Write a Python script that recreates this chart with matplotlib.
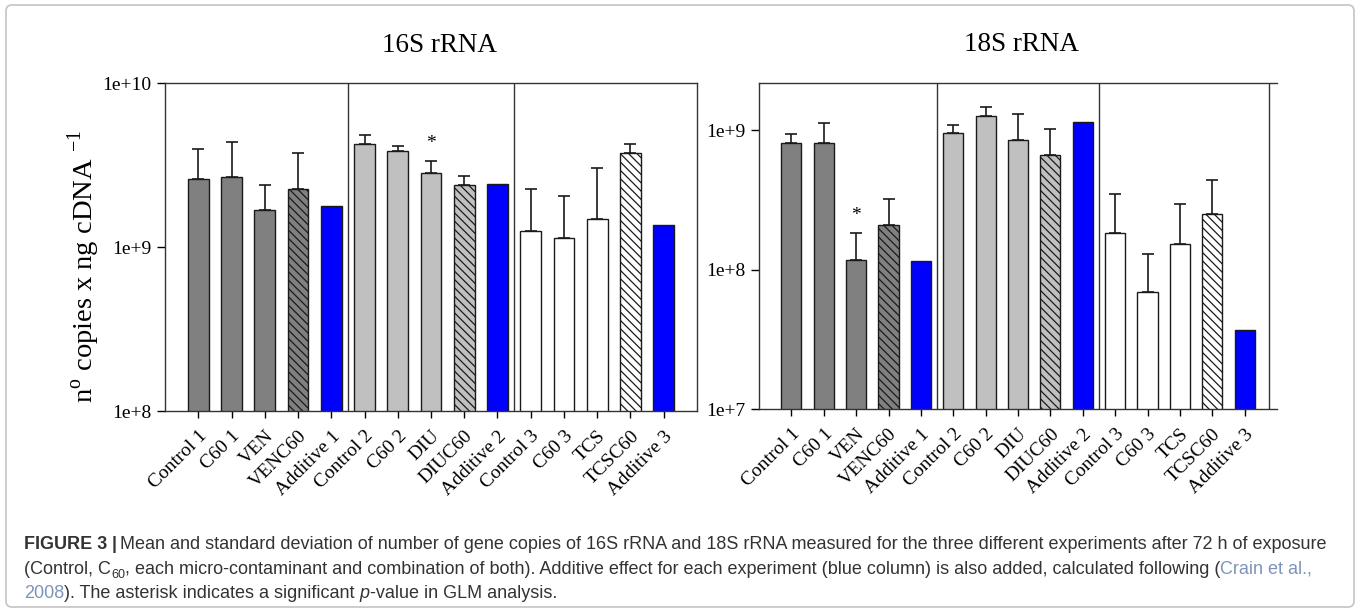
import numpy as np
import matplotlib
matplotlib.use('Agg')
import matplotlib.pyplot as plt
from matplotlib.patches import FancyBboxPatch
from matplotlib.transforms import IdentityTransform, ScaledTranslation
from matplotlib.ticker import FixedLocator, FuncFormatter, NullLocator

plt.rcParams['font.family'] = ['Liberation Serif', 'DejaVu Serif']
plt.rcParams['mathtext.fontset'] = 'custom'
plt.rcParams['mathtext.rm'] = 'Liberation Serif'
plt.rcParams['hatch.linewidth'] = 0.9

W, H = 1360, 610

labels = ['Control 1', 'C60 1', 'VEN', 'VENC60', 'Additive 1',
          'Control 2', 'C60 2', 'DIU', 'DIUC60', 'Additive 2',
          'Control 3', 'C60 3', 'TCS', 'TCSC60', 'Additive 3']

s16_mean = [2.60e9, 2.68e9, 1.68e9, 2.25e9, 1.78e9,
            4.23e9, 3.85e9, 2.84e9, 2.39e9, 2.43e9,
            1.26e9, 1.14e9, 1.49e9, 3.72e9, 1.37e9]
s16_sd = [1.38e9, 1.70e9, 0.71e9, 1.47e9, 0,
          0.59e9, 0.30e9, 0.52e9, 0.33e9, 0,
          0.99e9, 0.91e9, 1.56e9, 0.55e9, 0]

s18_mean = [8.10e8, 8.07e8, 1.17e8, 2.08e8, 1.15e8,
            9.57e8, 1.26e9, 8.47e8, 6.64e8, 1.15e9,
            1.83e8, 6.92e7, 1.52e8, 2.52e8, 3.66e7]
s18_sd = [1.30e8, 3.20e8, 0.67e8, 1.13e8, 0,
          1.40e8, 2.10e8, 4.70e8, 3.50e8, 0,
          1.66e8, 0.60e8, 1.44e8, 1.88e8, 0]

group_colors = ['#808080', '#c0c0c0', '#ffffff']
blue = '#0000ff'


def bar_style(i):
    grp, pos = divmod(i, 5)
    if pos == 4:
        return blue, None
    if pos == 3:
        return group_colors[grp], '\\\\\\\\'
    return group_colors[grp], None


def draw_panel(ax, mean, sd, ylim, star_idx, star_fac):
    x = np.arange(len(mean))
    for i in x:
        fc, hatch = bar_style(i)
        ax.bar(i, mean[i], width=0.62, color=fc, edgecolor='#1a1a1a',
               linewidth=1.0, hatch=hatch, zorder=2)
    sd = np.array(sd)
    has = sd > 0
    ax.errorbar(x[has], np.array(mean)[has],
                yerr=[np.zeros(has.sum()), sd[has]], fmt='none',
                ecolor='#1a1a1a', elinewidth=1.2, capsize=4.5, capthick=1.2,
                zorder=3)
    ax.set_yscale('log')
    ax.set_ylim(*ylim)
    ax.set_xlim(-1, 15)
    for xv in (4.5, 9.5):
        ax.axvline(xv, color='#333333', lw=1.0, zorder=1)
    ax.set_xticks(x)
    ax.set_xticklabels(labels, rotation=45, ha='right', va='top',
                       rotation_mode='anchor', fontsize=14)
    shift = ScaledTranslation(-7 / 100, 0, fig.dpi_scale_trans)
    for lab in ax.get_xticklabels():
        lab.set_transform(lab.get_transform() + shift)
    ax.tick_params(axis='x', length=5, width=1, pad=7)
    ax.tick_params(axis='y', length=6, width=1, labelsize=14, pad=4)
    dec = np.arange(np.floor(np.log10(ylim[0])), np.log10(ylim[1]) + 1e-9)
    ax.yaxis.set_major_locator(FixedLocator(10.0 ** dec))
    ax.yaxis.set_minor_locator(NullLocator())
    ax.yaxis.set_major_formatter(FuncFormatter(lambda v, p: '1e+%d' % round(np.log10(v))))
    for s in ax.spines.values():
        s.set_color('#333333')
        s.set_linewidth(1.0)
    top = mean[star_idx] + sd[star_idx]
    ax.text(star_idx, top * star_fac, '*', ha='center', va='center', fontsize=14)


fig = plt.figure(figsize=(W / 100, H / 100), dpi=100)

ax1 = fig.add_axes([165 / W, 1 - 411 / H, (697 - 165) / W, (411 - 83) / H])
draw_panel(ax1, s16_mean, s16_sd, (1e8, 1e10), 7, 1.28)
ax1.set_ylabel('n$^{\\mathrm{o}}$ copies x ng cDNA $^{-1}$', fontsize=20.5)
ax1.yaxis.set_label_coords(-0.118, 0.44)

ax2 = fig.add_axes([759 / W, 1 - 409 / H, (1277 - 759) / W, (409 - 83) / H])
draw_panel(ax2, s18_mean, s18_sd, (1e7, 2.18e9), 2, 1.32)
ax2.spines['right'].set_visible(False)
ax2.axvline(14.75, color='#333333', lw=1.0, zorder=1)

fig.text(440 / W, 1 - 52 / H, '16S rRNA', ha='center', va='baseline', fontsize=19.5)
fig.text(1021 / W, 1 - 51 / H, '18S rRNA', ha='center', va='baseline', fontsize=19.5)

# outer frame
frame = FancyBboxPatch((6, 3), W - 12, H - 8,
                       boxstyle='round,pad=0,rounding_size=6',
                       transform=IdentityTransform(), fill=False,
                       edgecolor='#c4c4c4', linewidth=1.2)
fig.add_artist(frame)

# caption, drawn piece by piece
cap_font = ['Liberation Sans', 'DejaVu Sans']
txt_col = '#333333'
link_col = '#7d94b8'
cap_size = 13.0
renderer = fig.canvas.get_renderer()


def runs_line(x, y, runs, size=cap_size):
    for text, style in runs:
        kw = dict(fontsize=size, family=cap_font, color=txt_col,
                  va='baseline', ha='left')
        dy = 0
        if 'bold' in style:
            kw['fontweight'] = 'bold'
        if 'italic' in style:
            kw['fontstyle'] = 'italic'
        if 'link' in style:
            kw['color'] = link_col
        if 'sub' in style:
            kw['fontsize'] = size * 0.7
            dy = -4
        t = fig.text(x / W, 1 - (y - dy) / H, text, **kw)
        x += t.get_window_extent(renderer).width
    return x


def space_w(size=cap_size):
    a = fig.text(0, 0, 'a a', fontsize=size, family=cap_font)
    b = fig.text(0, 0, 'aa', fontsize=size, family=cap_font)
    w = a.get_window_extent(renderer).width - b.get_window_extent(renderer).width
    a.remove()
    b.remove()
    return w


sp = space_w()
x0 = 24
y1, y2, y3 = 549, 574, 598
x = runs_line(x0, y1, [('FIGURE 3', 'bold')])
x = runs_line(x + 4, y1, [('|', 'bold')])
runs_line(x + 4, y1, [('Mean and standard deviation of number of gene copies of 16S rRNA and '
                       '18S rRNA measured for the three different experiments after 72 h of exposure', '')])
x = runs_line(x0, y2, [('(Control, C', '')])
x = runs_line(x, y2, [('60', 'sub')])
x = runs_line(x, y2, [(',', '')])
x = runs_line(x + sp, y2, [('each micro-contaminant and combination of both). Additive effect for each '
                            'experiment (blue column) is also added, calculated following (', '')])
runs_line(x, y2, [('Crain et al.,', 'link')])
x = runs_line(x0, y3, [('2008', 'link')])
x = runs_line(x, y3, [('). The asterisk indicates a significant', '')])
x = runs_line(x + sp, y3, [('p', 'italic')])
runs_line(x, y3, [('-value in GLM analysis.', '')])

fig.savefig('out.png', dpi=100)
